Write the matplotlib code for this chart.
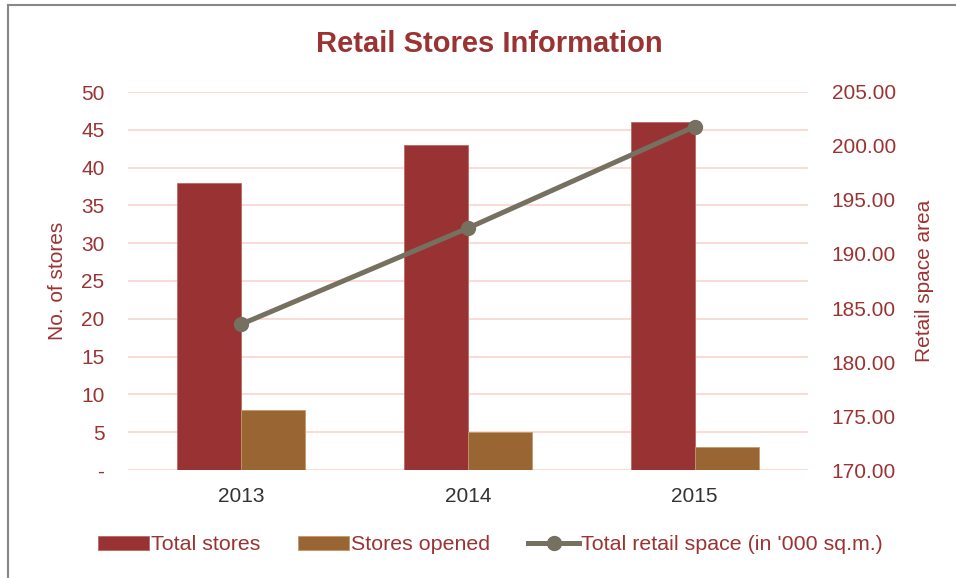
import matplotlib
matplotlib.use('Agg')
import matplotlib.pyplot as plt
from matplotlib.ticker import FuncFormatter

years = ['2013', '2014', '2015']
total_stores = [38, 43, 46]
stores_opened = [8, 5, 3]
retail_space = [183.5, 192.4, 201.8]

text_color = '#9B3333'
red = '#993333'
brown = '#996633'
grey = '#767060'
grid_color = '#F9D5CE'

plt.rcParams['font.family'] = ['Liberation Sans', 'DejaVu Sans']

fig = plt.figure(figsize=(9.56, 5.78), dpi=100)
ax = fig.add_axes([128/956, 1-470/578, 680/956, 378/578])
ax2 = ax.twinx()

x = list(range(len(years)))
w = 0.282
ax.bar([i - w/2 for i in x], total_stores, w, color=red, edgecolor='#B86A60', linewidth=0.6,
       label='Total stores')
ax.bar([i + w/2 for i in x], stores_opened, w, color=brown, edgecolor='#C49868', linewidth=0.6,
       label='Stores opened')
ax2.plot(x, retail_space, color=grey, lw=3.6, marker='o', markersize=10,
         label="Total retail space (in '000 sq.m.)")

ax.set_xlim(-0.5, 2.5)
ax.set_ylim(0, 50)
ax.set_yticks(range(0, 51, 5))
ax.yaxis.set_major_formatter(FuncFormatter(lambda v, p: '-' if v == 0 else f'{v:.0f}'))
ax2.set_ylim(170, 205)
ax2.set_yticks(range(170, 206, 5))
ax2.yaxis.set_major_formatter(FuncFormatter(lambda v, p: f'{v:.2f}'))
ax.set_xticks(x)
ax.set_xticklabels(years)

ax.set_axisbelow(True)
ax.grid(axis='y', color=grid_color, lw=1.2)
for a in (ax, ax2):
    for s in a.spines.values():
        s.set_visible(False)
ax.tick_params(axis='y', length=0, pad=17, labelsize=15, labelcolor=text_color)
ax.tick_params(axis='x', length=0, pad=12, labelsize=15, labelcolor='#333333')
ax2.tick_params(axis='y', length=0, pad=17, labelsize=15, labelcolor=text_color)

ax.set_ylabel('No. of stores', fontsize=15, color=text_color)
ax.yaxis.set_label_coords(-0.089, 0.5)
ax2.set_ylabel('Retail space area', fontsize=15, color=text_color)
ax2.yaxis.set_label_coords(1.158, 0.5)

fig.text(489/956, 1-44/578, 'Retail Stores Information', ha='center', va='center',
         fontsize=21, fontweight='bold', color=text_color)

h1, l1 = ax.get_legend_handles_labels()
h2, l2 = ax2.get_legend_handles_labels()
leg = fig.legend(h1 + h2, l1 + l2, loc='center', bbox_to_anchor=(0.513, 1-545/578), ncol=3,
                 frameon=False, fontsize=15.4, handlelength=2.4, handleheight=0.6,
                 handletextpad=0.1, columnspacing=1.75)
for t in leg.get_texts():
    t.set_color(text_color)

# outer frame
fig.add_artist(plt.Line2D([8/956, 8/956], [0, 1-5/578], color='#888888', lw=1.5))
fig.add_artist(plt.Line2D([8/956, 1], [1-5/578, 1-5/578], color='#888888', lw=1.5))

fig.savefig('out.png', dpi=100)
